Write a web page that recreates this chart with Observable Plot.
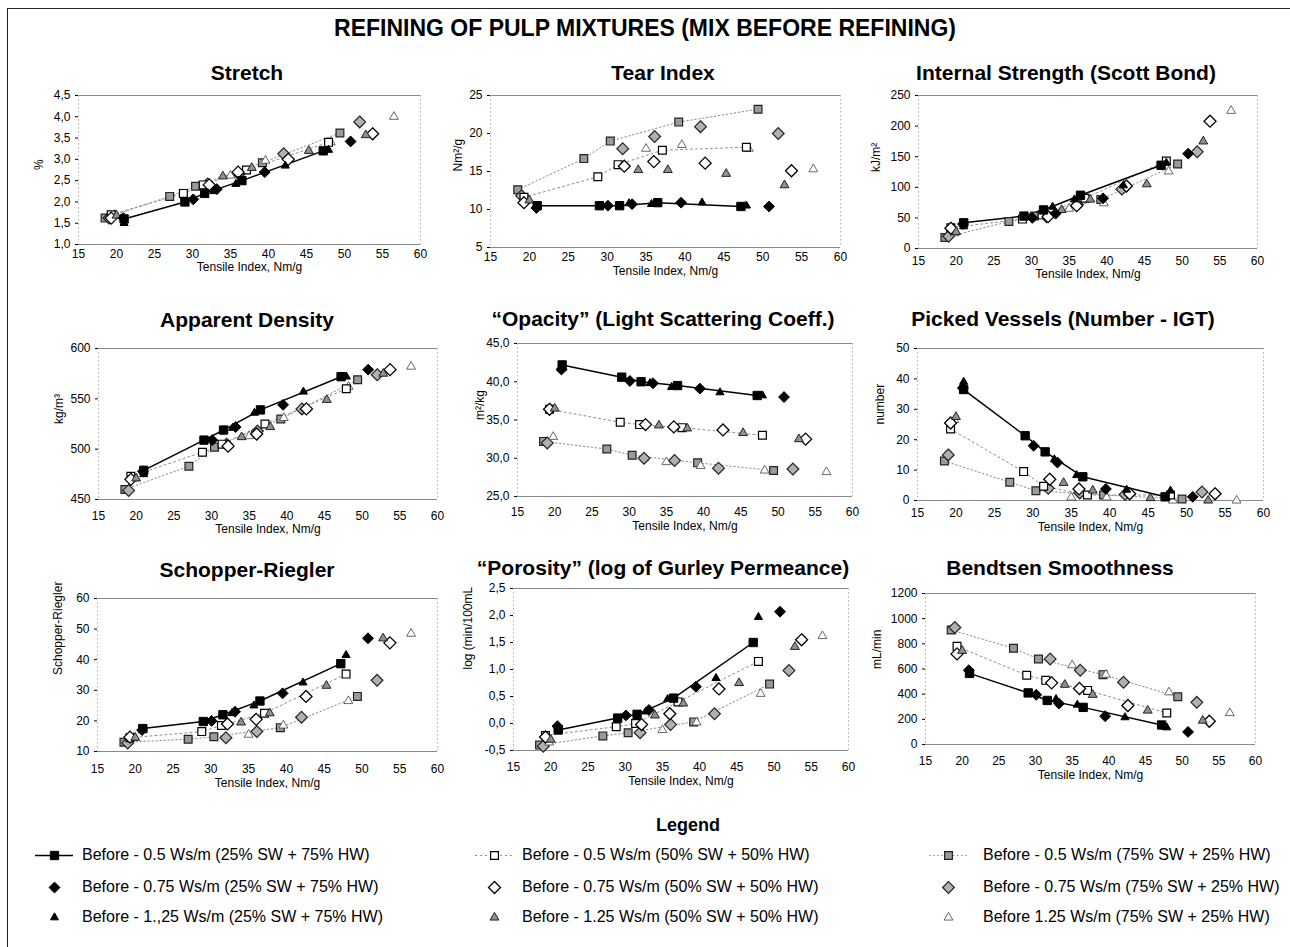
<!DOCTYPE html>
<html>
<head>
<meta charset="utf-8">
<script src="https://cdn.jsdelivr.net/npm/d3@7"></script>
<script src="https://cdn.jsdelivr.net/npm/@observablehq/plot@0.6"></script>
<style>
html,body{margin:0;padding:0;background:#fff;}
#page{position:relative;width:1290px;height:947px;overflow:hidden;font-family:"Liberation Sans",Arial,Helvetica,sans-serif;color:#000;}
.t{position:absolute;white-space:nowrap;transform:translate(-50%,-50%);font-weight:bold;}
.box{position:absolute;}
.box svg{display:block;overflow:visible;}
.lg{position:absolute;white-space:nowrap;font-size:16px;transform:translateY(-50%);}
.border-top{position:absolute;left:8px;top:8px;width:1282px;height:0;border-top:1.5px solid #222;}
.border-left{position:absolute;left:7px;top:8px;width:0;height:939px;border-left:1.5px solid #222;}
</style>
</head>
<body>
<div id="page"></div>
<script>
// ---------------- DATA ----------------
const seriesLabels = [
  "Before - 0.5 Ws/m (25% SW + 75% HW)",
  "Before - 0.75 Ws/m (25% SW + 75% HW)",
  "Before - 1.,25 Ws/m (25% SW + 75% HW)",
  "Before - 0.5 Ws/m (50% SW + 50% HW)",
  "Before - 0.75 Ws/m (50% SW + 50% HW)",
  "Before - 1.25 Ws/m (50% SW + 50% HW)",
  "Before - 0.5 Ws/m (75% SW + 25% HW)",
  "Before - 0.75 Ws/m (75% SW + 25% HW)",
  "Before 1.25 Ws/m (75% SW + 25% HW)"
];

// Tensile index (x) per series
const tensileA = [21, 29, 31.6, 36.5, 47.2];
const tensileB = [20.9, 30.1, 33.2, 39.5, 50.8];
const tensileC = [21, 32.8, 35.7, 42.2, 47.9];
const tensileD = [19.3, 28.8, 31.4, 37.1, 47.9];
const tensileE = [19.3, 32.2, 36, 42.6, 53.7];
const tensileF = [20, 34, 37.8, 45.3, 52.8];
const tensileG = [18.5, 27, 30.4, 39.2, 49.4];
const tensileH = [19, 32, 36.1, 42, 52];
const tensileI = [19.8, 35, 39.6, 48.2, 56.5];
const tensile = [tensileA, tensileB, tensileC, tensileD, tensileE, tensileF, tensileG, tensileH, tensileI];

// Property values (rows = series A..I)
const stretch = [
  [1.60, 2.00, 2.20, 2.50, 3.20],
  [1.62, 2.06, 2.30, 2.70, 3.42],
  [1.50, 2.25, 2.42, 2.85, 3.22],
  [1.70, 2.20, 2.40, 2.75, 3.40],
  [1.62, 2.40, 2.70, 3.00, 3.60],
  [1.68, 2.60, 2.80, 3.20, 3.57],
  [1.62, 2.13, 2.37, 2.92, 3.62],
  [1.62, 2.42, 2.65, 3.13, 3.88],
  [1.70, 2.62, 2.97, 3.40, 4.00]
];
const tear = [
  [10.5, 10.5, 10.5, 10.9, 10.4],
  [10.2, 10.5, 10.7, 10.9, 10.4],
  [10.4, 10.8, 10.7, 10.9, 10.5],
  [11.6, 14.3, 15.9, 17.8, 18.2],
  [10.9, 15.7, 16.3, 16.1, 15.1],
  [11.2, 15.2, 15.2, 14.7, 13.2],
  [12.6, 16.7, 19.0, 21.5, 23.2],
  [11.8, 18.0, 19.6, 20.9, 20.0],
  [11.4, 18.0, 18.5, 18.0, 15.3]
];
const scott = [
  [42, 53, 63, 87, 136],
  [40, 50, 57, 82, 155],
  [36, 68, 80, 103, 140],
  [34, 48, 55, 82, 143],
  [33, 52, 70, 102, 208],
  [27, 63, 80, 105, 175],
  [18, 44, 53, 80, 138],
  [20, 52, 72, 97, 158],
  [25, 65, 74, 126, 225]
];
const density = [
  [479, 509, 519, 539, 572],
  [478, 509, 522, 544, 579],
  [475, 521, 536, 557, 572],
  [473, 497, 505, 525, 560],
  [470, 503, 515, 540, 579],
  [471, 512, 522, 549, 575],
  [460, 483, 502, 530, 569],
  [459, 505, 518, 540, 574],
  [471, 513, 531, 562, 582]
];
const opacity = [
  [42.2, 40.6, 40.0, 39.5, 38.2],
  [41.6, 40.1, 39.8, 39.1, 38.0],
  [41.8, 39.8, 39.3, 38.6, 38.2],
  [36.4, 34.7, 34.4, 34.0, 33.0],
  [36.4, 34.4, 34.1, 33.7, 32.5],
  [36.5, 34.3, 33.9, 33.3, 32.5],
  [32.2, 31.2, 30.4, 29.4, 28.4],
  [32.0, 30.0, 29.7, 28.7, 28.6],
  [32.8, 29.5, 29.0, 28.4, 28.2]
];
const picked = [
  [36.5, 21.3, 16.0, 7.8, 1.2],
  [37.0, 18.0, 12.5, 3.8, 1.2],
  [39.0, 13.5, 8.3, 3.5, 3.2],
  [23.5, 9.5, 4.7, 1.8, 1.8],
  [25.5, 7.0, 3.8, 2.2, 2.2],
  [27.5, 5.8, 3.3, 0.8, 0.0],
  [13.0, 6.0, 3.2, 1.8, 0.5],
  [15.0, 4.0, 2.5, 2.0, 2.8],
  [26.5, 1.0, 1.0, 0.0, 0.0]
];
const schopper = [
  [17.5, 19.8, 22.0, 26.5, 38.7],
  [17.0, 20.0, 23.0, 29.0, 47.0],
  [17.0, 22.5, 25.0, 32.5, 41.5],
  [14.5, 16.5, 18.5, 22.5, 35.3],
  [14.7, 19.0, 20.5, 28.0, 45.5],
  [14.5, 19.5, 22.5, 31.5, 47.0],
  [13.0, 14.0, 14.8, 17.8, 28.0],
  [12.8, 14.5, 16.5, 21.2, 33.3],
  [14.5, 15.5, 18.5, 26.5, 48.5]
];
const porosity = [
  [-0.12, 0.10, 0.17, 0.47, 1.50],
  [-0.05, 0.15, 0.25, 0.68, 2.07],
  [-0.08, 0.22, 0.45, 0.84, 1.97],
  [-0.22, -0.06, 0.00, 0.40, 1.15],
  [-0.25, -0.02, 0.18, 0.64, 1.55],
  [-0.30, 0.15, 0.37, 0.75, 1.42],
  [-0.40, -0.23, -0.17, 0.03, 0.73],
  [-0.42, -0.17, -0.02, 0.18, 0.98],
  [-0.35, -0.12, 0.02, 0.55, 1.62]
];
const bendtsen = [
  [565, 410, 350, 295, 155],
  [590, 395, 325, 225, 100],
  [560, 360, 315, 215, 135],
  [780, 550, 510, 430, 250],
  [720, 490, 445, 310, 185],
  [745, 475, 395, 270, 190],
  [910, 765, 680, 555, 380],
  [930, 680, 590, 495, 335],
  [750, 630, 555, 415, 250]
];

// Tick values
const xTicks = [15, 20, 25, 30, 35, 40, 45, 50, 55, 60];
const stretchTicks = [1.0, 1.5, 2.0, 2.5, 3.0, 3.5, 4.0, 4.5];
const tearTicks = [5, 10, 15, 20, 25];
const scottTicks = [0, 50, 100, 150, 200, 250];
const densityTicks = [450, 500, 550, 600];
const opacityTicks = [25, 30, 35, 40, 45];
const pickedTicks = [0, 10, 20, 30, 40, 50];
const schopperTicks = [10, 20, 30, 40, 50, 60];
const porosityTicks = [-0.5, 0, 0.5, 1.0, 1.5, 2.0, 2.5];
const bendtsenTicks = [0, 200, 400, 600, 800, 1000, 1200];

// ---------------- STYLES ----------------
const styles = [
  {symbol:"square",   r:4.7, fill:"#000", stroke:"#000", sw:1, line:{stroke:"#000", width:1.5, dash:null}},
  {symbol:"diamond2", r:4.9, fill:"#000", stroke:"#000", sw:1},
  {symbol:"triangle", r:3.0, fill:"#000", stroke:"#000", sw:1},
  {symbol:"square",   r:4.4, fill:"#fff", stroke:"#000", sw:1.2, line:{stroke:"#8c8c8c", width:1, dash:"2,3"}},
  {symbol:"diamond2", r:5.4, fill:"#fff", stroke:"#000", sw:1.3},
  {symbol:"triangle", r:3.3, fill:"#8f8f8f", stroke:"#222", sw:1},
  {symbol:"square",   r:4.4, fill:"#9a9a9a", stroke:"#222", sw:1.2, line:{stroke:"#8c8c8c", width:1, dash:"1.5,2.5"}},
  {symbol:"diamond2", r:5.3, fill:"#b0b0b0", stroke:"#222", sw:1.2},
  {symbol:"triangle", r:3.3, fill:"#fff", stroke:"#444", sw:0.8}
];
const drawOrder = [6, 7, 8, 3, 4, 5, 0, 1, 2];

// ---------------- LAYOUT ----------------
const panels = [
  {title:"Stretch", ylabel:"%", values:stretch, ticks:stretchTicks, dec:1, box:[78,420,95,244], tx:247, ty:73, yoff:39, xlab:10, xtit:26},
  {title:"Tear Index", ylabel:"Nm²/g", values:tear, ticks:tearTicks, dec:0, box:[490,840,95,247], tx:663, ty:73, yoff:32, xlab:10, xtit:27},
  {title:"Internal Strength (Scott Bond)", ylabel:"kJ/m²", values:scott, ticks:scottTicks, dec:0, box:[918,1257,95,248], tx:1066, ty:73, yoff:42, xlab:13, xtit:29},
  {title:"Apparent  Density", ylabel:"kg/m³", values:density, ticks:densityTicks, dec:0, box:[98,437,348,499], tx:247, ty:320, yoff:39, xlab:17, xtit:33},
  {title:"“Opacity” (Light Scattering Coeff.)", ylabel:"m²/kg", values:opacity, ticks:opacityTicks, dec:1, box:[517,852,343,496], tx:663, ty:319, yoff:37, xlab:16, xtit:33},
  {title:"Picked Vessels (Number - IGT)", ylabel:"number", values:picked, ticks:pickedTicks, dec:0, box:[917,1263,348,500], tx:1063, ty:319, yoff:37, xlab:13, xtit:30},
  {title:"Schopper-Riegler", ylabel:"Schopper-Riegler", values:schopper, ticks:schopperTicks, dec:0, box:[97,437,598,751], tx:247, ty:570, yoff:39, xlab:18, xtit:35},
  {title:"“Porosity” (log of Gurley Permeance)", ylabel:"log (min/100mL", values:porosity, ticks:porosityTicks, dec:1, box:[513,848,588,750], tx:663, ty:568, yoff:45, xlab:17, xtit:34},
  {title:"Bendtsen Smoothness", ylabel:"mL/min", values:bendtsen, ticks:bendtsenTicks, dec:0, box:[925,1255,593,744], tx:1060, ty:568, yoff:48, xlab:17, xtit:34}
];

const FONT = "'Liberation Sans', Arial, Helvetica, sans-serif";
const page = document.getElementById("page");

function add(el){ page.appendChild(el); return el; }
function textDiv(cls, txt, x, y, size){
  const d = document.createElement("div");
  d.className = cls; d.textContent = txt;
  d.style.left = x + "px"; d.style.top = y + "px"; d.style.fontSize = size + "px";
  return add(d);
}

// borders
add(Object.assign(document.createElement("div"), {className:"border-top"}));
add(Object.assign(document.createElement("div"), {className:"border-left"}));

// main title
textDiv("t", "REFINING OF PULP MIXTURES (MIX BEFORE REFINING)", 645, 28, 23);

const fmt = dec => d => (dec ? d.toFixed(dec) : String(d)).replace(".", ",");

function seriesRows(p, s){
  return tensile[s].map((x, j) => ({x, y: p.values[s][j]}));
}

panels.forEach(p => {
  const [L, R, T, B] = p.box;
  const mL = 70, mR = 12, mT = 10, mB = 50;
  const W = (R - L) + mL + mR, H = (B - T) + mT + mB;
  const dom = [p.ticks[0], p.ticks[p.ticks.length - 1]];
  const marks = [
    Plot.ruleY(dom, {stroke:"#8a8a8a", strokeWidth:1}),
    Plot.ruleX([15, 60], {stroke:"#b0b0b0", strokeWidth:1, strokeDasharray:"1.5,2.5"}),
    Plot.axisY({ticks:p.ticks, tickFormat:fmt(p.dec), tickSize:3, tickPadding:5, label:null, fontSize:12}),
    Plot.axisX({ticks:xTicks, tickFormat:d => String(d), tickSize:0, tickPadding:Math.max(0, p.xlab - 5), label:null, fontSize:12}),
    Plot.text([p.ylabel], {text:d => d, frameAnchor:"left", dx:-p.yoff, rotate:-90, fontSize:12}),
    Plot.text(["Tensile Index, Nm/g"], {text:d => d, frameAnchor:"bottom", dy:p.xtit, fontSize:12})
  ];
  // lines for the 0.5 Ws/m series
  drawOrder.forEach(s => {
    const st = styles[s];
    if (st.line) {
      marks.push(Plot.line(seriesRows(p, s), {x:"x", y:"y", stroke:st.line.stroke, strokeWidth:st.line.width, strokeDasharray:st.line.dash || undefined}));
    }
  });
  drawOrder.forEach(s => {
    const st = styles[s];
    marks.push(Plot.dot(seriesRows(p, s), {x:"x", y:"y", symbol:st.symbol, r:st.r, fill:st.fill, stroke:st.stroke, strokeWidth:st.sw}));
  });
  const svg = Plot.plot({
    width:W, height:H, marginLeft:mL, marginRight:mR, marginTop:mT, marginBottom:mB,
    x:{domain:[15, 60]}, y:{domain:dom},
    style:{fontFamily:FONT, fontSize:"12px", background:"transparent", color:"#000", overflow:"visible"},
    marks
  });
  const box = document.createElement("div");
  box.className = "box";
  box.style.left = (L - mL) + "px";
  box.style.top = (T - mT) + "px";
  box.appendChild(svg);
  add(box);
  textDiv("t", p.title, p.tx, p.ty, 21);
});

// ---------------- LEGEND ----------------
textDiv("t", "Legend", 688, 825, 18);
const legendRowsY = [855, 887, 917];
const legendSwatchX = [54, 494, 948];
const legendTextX = [82, 522, 983];
seriesLabels.forEach((label, s) => {
  const col = Math.floor(s / 3), row = s % 3;
  const st = styles[s];
  const sw = 38, sh = 22;
  const m = [];
  if (st.line) m.push(Plot.ruleY([0.5], {stroke:st.line.stroke, strokeWidth:st.line.width, strokeDasharray:st.line.dash || undefined}));
  m.push(Plot.dot([0], {frameAnchor:"middle", symbol:st.symbol, r:st.r, fill:st.fill, stroke:st.stroke, strokeWidth:st.sw}));
  const svg = Plot.plot({
    width:sw, height:sh, margin:0,
    x:{domain:[0,1], axis:null}, y:{domain:[0,1], axis:null},
    style:{background:"transparent", overflow:"visible"},
    marks:m
  });
  const box = document.createElement("div");
  box.className = "box";
  box.style.left = (legendSwatchX[col] - sw / 2) + "px";
  box.style.top = (legendRowsY[row] - sh / 2) + "px";
  box.appendChild(svg);
  add(box);
  const t = document.createElement("div");
  t.className = "lg"; t.textContent = label;
  t.style.left = legendTextX[col] + "px"; t.style.top = legendRowsY[row] + "px";
  add(t);
});
</script>
</body>
</html>
